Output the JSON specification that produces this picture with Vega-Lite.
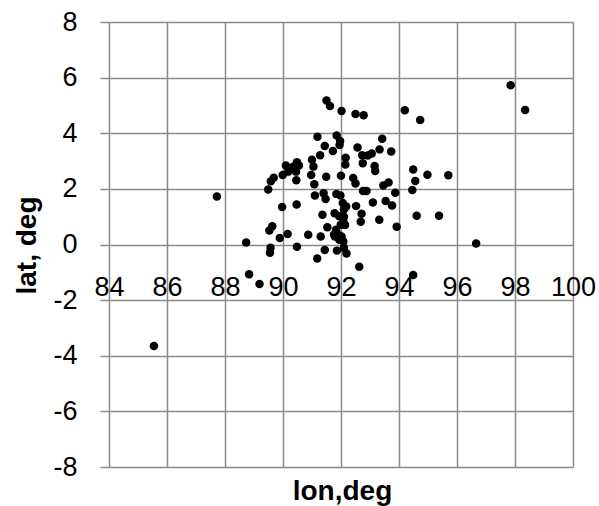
{
  "$schema": "https://vega.github.io/schema/vega-lite/v6.json",
  "width": 464,
  "height": 445,
  "autosize": "none",
  "padding": {"left": 109, "top": 22, "right": 26, "bottom": 39},
  "background": "white",
  "config": {"view": {"stroke": null}, "font": "Liberation Sans"},
  "data": {"values": [
    {"lon": 85.55, "lat": -3.65}, {"lon": 87.72, "lat": 1.73}, {"lon": 88.73, "lat": 0.07}, {"lon": 88.83, "lat": -1.07},
    {"lon": 89.19, "lat": -1.42}, {"lon": 89.49, "lat": 1.98}, {"lon": 89.58, "lat": 2.27}, {"lon": 89.68, "lat": 2.40},
    {"lon": 89.53, "lat": 0.50}, {"lon": 89.63, "lat": 0.66}, {"lon": 89.57, "lat": -0.12}, {"lon": 89.55, "lat": -0.30},
    {"lon": 89.89, "lat": 0.23}, {"lon": 89.97, "lat": 1.35}, {"lon": 89.99, "lat": 2.50}, {"lon": 90.10, "lat": 2.84},
    {"lon": 90.18, "lat": 2.62}, {"lon": 90.16, "lat": 0.38}, {"lon": 90.48, "lat": 2.96}, {"lon": 90.46, "lat": 2.31},
    {"lon": 90.55, "lat": 2.84}, {"lon": 90.47, "lat": 1.44}, {"lon": 90.48, "lat": -0.08}, {"lon": 90.87, "lat": 0.35},
    {"lon": 90.97, "lat": 2.50}, {"lon": 91.00, "lat": 3.05}, {"lon": 91.05, "lat": 2.80}, {"lon": 91.08, "lat": 2.17},
    {"lon": 91.10, "lat": 1.76}, {"lon": 91.19, "lat": 3.87}, {"lon": 91.28, "lat": 3.21}, {"lon": 91.18, "lat": -0.50},
    {"lon": 91.30, "lat": 0.29}, {"lon": 91.36, "lat": 1.07}, {"lon": 91.44, "lat": 3.54}, {"lon": 91.49, "lat": 2.44},
    {"lon": 91.40, "lat": 1.84}, {"lon": 91.47, "lat": 1.64}, {"lon": 91.44, "lat": -0.20}, {"lon": 91.53, "lat": 0.62},
    {"lon": 91.50, "lat": 5.18}, {"lon": 91.62, "lat": 4.98}, {"lon": 91.72, "lat": 3.36}, {"lon": 91.85, "lat": 3.92},
    {"lon": 91.84, "lat": 1.82}, {"lon": 91.98, "lat": 1.76}, {"lon": 91.76, "lat": 0.36}, {"lon": 91.78, "lat": 1.12},
    {"lon": 91.86, "lat": -0.22}, {"lon": 91.97, "lat": 3.72}, {"lon": 91.95, "lat": 3.58}, {"lon": 92.02, "lat": 4.80},
    {"lon": 92.00, "lat": 2.47}, {"lon": 92.06, "lat": 1.49}, {"lon": 92.18, "lat": 1.37}, {"lon": 92.10, "lat": 1.26},
    {"lon": 91.94, "lat": 1.02}, {"lon": 92.10, "lat": 1.00}, {"lon": 92.08, "lat": 0.83}, {"lon": 91.99, "lat": 0.71},
    {"lon": 92.14, "lat": 0.70}, {"lon": 91.83, "lat": 0.53}, {"lon": 91.91, "lat": 0.35}, {"lon": 92.02, "lat": 0.29},
    {"lon": 91.79, "lat": 0.29}, {"lon": 91.94, "lat": 0.17}, {"lon": 92.08, "lat": 0.11}, {"lon": 92.10, "lat": -0.12},
    {"lon": 92.16, "lat": 3.12}, {"lon": 92.15, "lat": 2.88}, {"lon": 92.19, "lat": -0.32}, {"lon": 92.42, "lat": 2.39},
    {"lon": 92.50, "lat": 2.19}, {"lon": 92.52, "lat": 1.38}, {"lon": 92.50, "lat": 4.69}, {"lon": 92.78, "lat": 4.65},
    {"lon": 92.57, "lat": 3.49}, {"lon": 92.63, "lat": -0.80}, {"lon": 92.68, "lat": 0.82}, {"lon": 92.71, "lat": 1.11},
    {"lon": 92.73, "lat": 3.21}, {"lon": 92.75, "lat": 2.92}, {"lon": 92.76, "lat": 1.92}, {"lon": 92.88, "lat": 1.92},
    {"lon": 92.92, "lat": 3.20}, {"lon": 93.06, "lat": 3.27}, {"lon": 93.10, "lat": 1.51}, {"lon": 93.16, "lat": 2.82},
    {"lon": 93.18, "lat": 2.64}, {"lon": 93.32, "lat": 0.89}, {"lon": 93.33, "lat": 3.42}, {"lon": 93.42, "lat": 3.80},
    {"lon": 93.46, "lat": 2.12}, {"lon": 93.54, "lat": 1.56}, {"lon": 93.64, "lat": 2.23}, {"lon": 93.73, "lat": 3.34},
    {"lon": 93.76, "lat": 1.40}, {"lon": 93.87, "lat": 1.86}, {"lon": 93.92, "lat": 0.64}, {"lon": 94.20, "lat": 4.83},
    {"lon": 94.46, "lat": 1.96}, {"lon": 94.49, "lat": 2.70}, {"lon": 94.56, "lat": 2.28}, {"lon": 94.61, "lat": 1.03},
    {"lon": 94.49, "lat": -1.10}, {"lon": 94.73, "lat": 4.48}, {"lon": 94.98, "lat": 2.51}, {"lon": 95.38, "lat": 1.03},
    {"lon": 95.70, "lat": 2.49}, {"lon": 96.66, "lat": 0.04}, {"lon": 97.85, "lat": 5.73}, {"lon": 98.35, "lat": 4.84},
    {"lon": 90.36, "lat": 2.80}, {"lon": 90.45, "lat": 2.62}
  ]},
  "mark": {"type": "circle", "size": 72, "color": "black", "opacity": 1},
  "encoding": {
    "x": {
      "field": "lon", "type": "quantitative",
      "scale": {"domain": [84, 100], "nice": false, "zero": false},
      "axis": {
        "values": [84, 86, 88, 90, 92, 94, 96, 98, 100],
        "grid": true, "gridColor": "#8a8a8a", "gridWidth": 1.5,
        "domain": false, "ticks": false, "tickSize": 0,
        "labelPadding": -193, "labelFontSize": 27, "labelColor": "black",
        "labelFont": "Liberation Sans", "labelFlush": false, "labelOverlap": false,
        "labelExpr": "'' + datum.value",
        "title": "lon,deg", "titleFont": "Liberation Sans", "titleFontSize": 28,
        "titleFontWeight": "bold", "titleColor": "black",
        "titleY": 32, "titleBaseline": "alphabetic", "titleX": 233, "titleAlign": "center"
      }
    },
    "y": {
      "field": "lat", "type": "quantitative",
      "scale": {"domain": [-8, 8], "nice": false, "zero": false},
      "axis": {
        "values": [-8, -6, -4, -2, 0, 2, 4, 6, 8],
        "grid": true, "gridColor": "#8a8a8a", "gridWidth": 1.5,
        "domain": false, "ticks": true, "tickSize": 9, "tickColor": "#8a8a8a", "tickWidth": 1.5,
        "labelPadding": 23, "labelFontSize": 27, "labelColor": "black",
        "labelFont": "Liberation Sans", "labelOverlap": false,
        "labelExpr": "'' + datum.value",
        "title": "lat, deg", "titleFont": "Liberation Sans", "titleFontSize": 28,
        "titleFontWeight": "bold", "titleColor": "black", "titleAngle": 270,
        "titleX": -74, "titleY": 223, "titleBaseline": "alphabetic", "titleAlign": "center"
      }
    }
  }
}
